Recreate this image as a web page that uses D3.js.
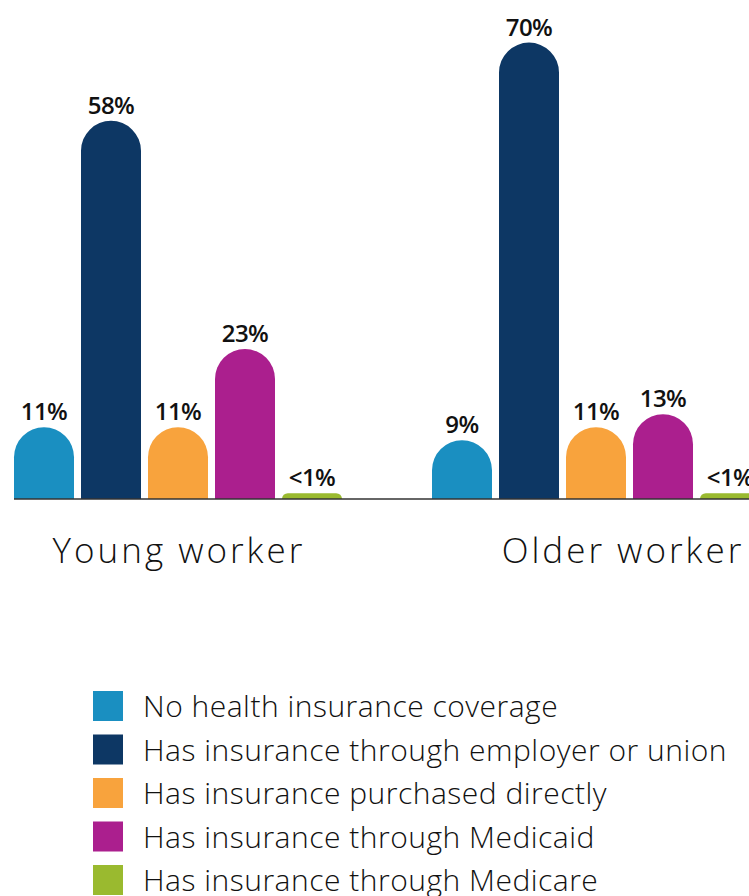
<!DOCTYPE html>
<html><head><meta charset="utf-8">
<script src="https://cdn.jsdelivr.net/npm/d3@7"></script>
<style>body{margin:0;background:#fff}svg{display:block}</style>
</head><body>
<svg id="c" width="749" height="896"></svg>
<script>
const groups = ["Young worker", "Older worker"];
const series = ["No health insurance coverage","Has insurance through employer or union","Has insurance purchased directly","Has insurance through Medicaid","Has insurance through Medicare"];
const colors = ["#1a8fc1","#0d3764","#f8a33d","#ab1f8e","#9aba2f"];
const youngValues = [11, 58, 11, 23, 0.9];
const olderValues = [9, 70, 11, 13, 0.9];
const youngLabels = ["11%","58%","11%","23%","<1%"];
const olderLabels = ["9%","70%","11%","13%","<1%"];
const values = [youngValues, olderValues];
const labels = [youngLabels, olderLabels];

const svg = d3.select("#c");
const font = "'Open Sans', sans-serif";
const y = d3.scaleLinear().domain([0, 70]).range([499, 42.6]);
const x0 = d3.scaleBand().domain(groups).range([14, 760]).paddingInner(90/418).paddingOuter(0);
const x1 = d3.scaleBand().domain(series).range([0, x0.bandwidth()]).paddingInner(7/67).paddingOuter(0);

function barPath(x, w, top, base) {
  const h = base - top;
  const rx = w / 2;
  if (h >= rx) {
    return `M${x},${base}V${top + rx}A${rx},${rx} 0 0 1 ${x + w},${top + rx}V${base}Z`;
  }
  const r = h;
  return `M${x},${base}V${top + r}A${r},${r} 0 0 1 ${x + r},${top}H${x + w - r}A${r},${r} 0 0 1 ${x + w},${top + r}V${base}Z`;
}

groups.forEach((g, gi) => {
  const gx = x0(g);
  const G = svg.append("g");
  series.forEach((s, si) => {
    const v = values[gi][si];
    const bx = gx + x1(s), bw = x1.bandwidth();
    G.append("path").attr("d", barPath(bx, bw, y(v), y(0))).attr("fill", colors[si]);
    G.append("text").attr("x", bx + bw / 2).attr("y", y(v) - 7)
      .attr("text-anchor", "middle").attr("font-family", font).attr("font-weight", 600)
      .attr("font-size", 24).attr("letter-spacing", -0.5).attr("fill", "#111").text(labels[gi][si]);
  });
});

svg.append("line").attr("x1", 14).attr("x2", 749).attr("y1", 499).attr("y2", 499)
  .attr("stroke", "#333").attr("stroke-width", 1.5);

const catX = [179, 623];
groups.forEach((g, gi) => {
  svg.append("text").attr("x", catX[gi]).attr("y", 563).attr("text-anchor", "middle")
    .attr("font-family", font).attr("font-weight", 300).attr("font-size", 35)
    .attr("letter-spacing", 3).attr("fill", "#111").text(g);
});

const leg = svg.append("g");
series.forEach((s, i) => {
  const cy = 706 + i * 43.5;
  leg.append("rect").attr("x", 93).attr("y", cy - 15).attr("width", 30).attr("height", 30).attr("fill", colors[i]);
  leg.append("text").attr("x", 143).attr("y", cy + 11).attr("font-family", font).attr("font-weight", 300)
    .attr("font-size", 30).attr("letter-spacing", 0.5).attr("fill", "#111").text(s);
});
</script>
</body></html>
